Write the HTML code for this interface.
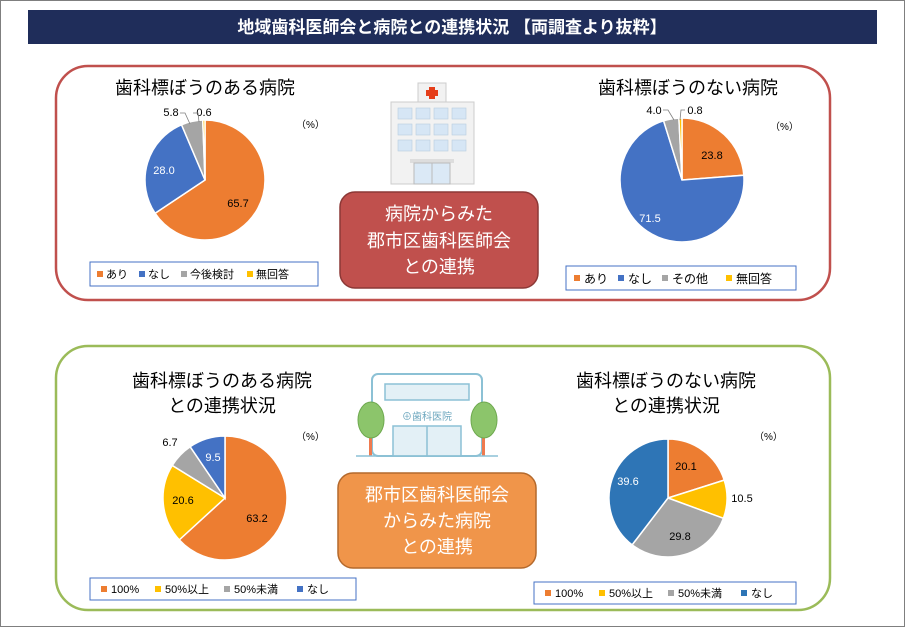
<!DOCTYPE html>
<html><head><meta charset="utf-8"><style>
body{margin:0;background:#fff}
svg{display:block;font-family:"Liberation Sans","Noto Sans CJK JP",sans-serif}
</style></head><body>
<svg id="s" width="905" height="627" viewBox="0 0 905 627">
<rect x="0.5" y="0.5" width="904" height="626" fill="#fff" stroke="#7f7f7f"/>
<rect x="28" y="10" width="849" height="34" fill="#1f2d5a"/>
<text x="452" y="33" fill="#fff" font-size="17" font-weight="bold" text-anchor="middle">地域歯科医師会と病院との連携状況 【両調査より抜粋】</text>
<rect x="56" y="66" width="774" height="234" rx="32" fill="none" stroke="#c0504d" stroke-width="2.5"/>
<rect x="56" y="346" width="774" height="264" rx="32" fill="none" stroke="#9bbb59" stroke-width="2.5"/>

<g font-size="18" text-anchor="middle" fill="#000">
<text x="205" y="94">歯科標ぼうのある病院</text>
<text x="688" y="94">歯科標ぼうのない病院</text>
<text x="222" y="387">歯科標ぼうのある病院</text>
<text x="222" y="412">との連携状況</text>
<text x="666" y="387">歯科標ぼうのない病院</text>
<text x="666" y="412">との連携状況</text>
</g>
<g font-size="10" fill="#000">
<text x="296" y="128">（%）</text>
<text x="770" y="130">（%）</text>
<text x="296" y="440">（%）</text>
<text x="754" y="440">（%）</text>
</g>
<g id="pies"></g>
<g font-size="11" text-anchor="middle">
<text x="238" y="207" fill="#000">65.7</text>
<text x="164" y="174" fill="#fff">28.0</text>
<text x="171" y="116">5.8</text>
<text x="204" y="116">0.6</text>
<text x="712" y="159">23.8</text>
<text x="650" y="222" fill="#fff">71.5</text>
<text x="654" y="114">4.0</text>
<text x="695" y="114">0.8</text>
<text x="257" y="522">63.2</text>
<text x="183" y="504">20.6</text>
<text x="170" y="446">6.7</text>
<text x="213" y="461" fill="#fff">9.5</text>
<text x="686" y="470">20.1</text>
<text x="742" y="502">10.5</text>
<text x="680" y="540">29.8</text>
<text x="628" y="485" fill="#fff">39.6</text>
</g>
<g stroke="#7f7f7f" stroke-width="0.8" fill="none">
<polyline points="180,113 185,113 190,124"/>
<polyline points="193,113 198,113 199,122"/>
<polyline points="663,110 668,110 674,120"/>
<polyline points="685,110 681,110 680,120"/>
</g>

<g font-size="11">
<rect x="90" y="262" width="228" height="24" fill="#fff" stroke="#4472c4"/>
<rect x="97" y="271" width="6" height="6" fill="#ed7d31"/><text x="106" y="278">あり</text>
<rect x="139" y="271" width="6" height="6" fill="#4472c4"/><text x="148" y="278">なし</text>
<rect x="181" y="271" width="6" height="6" fill="#a5a5a5"/><text x="190" y="278">今後検討</text>
<rect x="247" y="271" width="6" height="6" fill="#ffc000"/><text x="256" y="278">無回答</text>

<rect x="566" y="266" width="230" height="24" fill="#fff" stroke="#4472c4"/>
<rect x="574" y="275" width="6" height="6" fill="#ed7d31"/><text x="584" y="283" font-size="12">あり</text>
<rect x="618" y="275" width="6" height="6" fill="#4472c4"/><text x="628" y="283" font-size="12">なし</text>
<rect x="662" y="275" width="6" height="6" fill="#a5a5a5"/><text x="672" y="283" font-size="12">その他</text>
<rect x="726" y="275" width="6" height="6" fill="#ffc000"/><text x="736" y="283" font-size="12">無回答</text>

<rect x="90" y="578" width="266" height="22" fill="#fff" stroke="#4472c4"/>
<rect x="101" y="586" width="6" height="6" fill="#ed7d31"/><text x="111" y="593">100%</text>
<rect x="155" y="586" width="6" height="6" fill="#ffc000"/><text x="165" y="593">50%以上</text>
<rect x="224" y="586" width="6" height="6" fill="#a5a5a5"/><text x="234" y="593">50%未満</text>
<rect x="297" y="586" width="6" height="6" fill="#4472c4"/><text x="307" y="593">なし</text>

<rect x="534" y="582" width="262" height="22" fill="#fff" stroke="#4472c4"/>
<rect x="545" y="590" width="6" height="6" fill="#ed7d31"/><text x="555" y="597">100%</text>
<rect x="599" y="590" width="6" height="6" fill="#ffc000"/><text x="609" y="597">50%以上</text>
<rect x="668" y="590" width="6" height="6" fill="#a5a5a5"/><text x="678" y="597">50%未満</text>
<rect x="741" y="590" width="6" height="6" fill="#2e75b6"/><text x="751" y="597">なし</text>
</g>

<g>
<rect x="418" y="83" width="28" height="20" fill="#f2f2f2" stroke="#ccc"/>
<rect x="429" y="87" width="6" height="12" fill="#e53e1a"/><rect x="426" y="90" width="12" height="6" fill="#e53e1a"/>
<rect x="391" y="102" width="83" height="82" fill="#f2f2f2" stroke="#ccc"/>
<g fill="#d6e6f5" stroke="#b8cde0" stroke-width="0.6" id="win"></g>
<rect x="410" y="159" width="44" height="4" fill="#ddd"/>
<rect x="414" y="163" width="36" height="21" fill="#dbe9f6" stroke="#bbb"/>
<line x1="432" y1="163" x2="432" y2="184" stroke="#bbb"/>
</g>
<rect x="340" y="192" width="198" height="96" rx="15" fill="#c0504d" stroke="#8c3836" stroke-width="1.5"/>
<g fill="#fff" font-size="18" text-anchor="middle">
<text x="439" y="220">病院からみた</text>
<text x="439" y="247">郡市区歯科医師会</text>
<text x="439" y="273">との連携</text>
</g>

<g>
<rect x="372" y="374" width="110" height="82" rx="6" fill="#fff" stroke="#8cc1d5" stroke-width="2"/>
<rect x="385" y="384" width="84" height="16" fill="#e3f0f6" stroke="#8cc1d5" stroke-width="1.5"/>
<text x="427" y="420" font-size="10" fill="#6fa8bf" text-anchor="middle">⊕歯科医院</text>
<rect x="393" y="426" width="68" height="30" fill="#e3f0f6" stroke="#8cc1d5" stroke-width="1.5"/>
<line x1="427" y1="426" x2="427" y2="456" stroke="#8cc1d5" stroke-width="1.5"/>
<rect x="369" y="430" width="3" height="26" fill="#ef7a4f"/>
<ellipse cx="371" cy="420" rx="13" ry="18" fill="#8cc56b" stroke="#6ea94f"/>
<rect x="482" y="430" width="3" height="26" fill="#ef7a4f"/>
<ellipse cx="484" cy="420" rx="13" ry="18" fill="#8cc56b" stroke="#6ea94f"/>
<line x1="356" y1="456" x2="498" y2="456" stroke="#8cc1d5" stroke-width="1.5"/>
</g>
<rect x="338" y="473" width="198" height="95" rx="15" fill="#f0954a" stroke="#b4692c" stroke-width="1.5"/>
<g fill="#fff" font-size="18" text-anchor="middle">
<text x="437" y="501">郡市区歯科医師会</text>
<text x="437" y="527">からみた病院</text>
<text x="437" y="553">との連携</text>
</g>
</svg>
<script>
var NS="http://www.w3.org/2000/svg";
function pie(cx,cy,r,vals,cols){
 var g=document.getElementById("pies"),a=-Math.PI/2,tot=vals.reduce(function(s,v){return s+v},0);
 for(var i=0;i<vals.length;i++){
  var b=a+vals[i]/tot*2*Math.PI;
  var x1=cx+r*Math.cos(a),y1=cy+r*Math.sin(a),x2=cx+r*Math.cos(b),y2=cy+r*Math.sin(b);
  var p=document.createElementNS(NS,"path");
  p.setAttribute("d","M"+cx+","+cy+"L"+x1+","+y1+"A"+r+","+r+" 0 "+((b-a)>Math.PI?1:0)+" 1 "+x2+","+y2+"Z");
  p.setAttribute("fill",cols[i]);p.setAttribute("stroke","#fff");p.setAttribute("stroke-width","1.5");
  g.appendChild(p);a=b;
 }
}
pie(205,180,60,[65.7,28.0,5.8,0.6],["#ed7d31","#4472c4","#a5a5a5","#ffc000"]);
pie(682,180,62,[23.8,71.5,4.0,0.8],["#ed7d31","#4472c4","#a5a5a5","#ffc000"]);
pie(225,498,62,[63.2,20.6,6.7,9.5],["#ed7d31","#ffc000","#a5a5a5","#4472c4"]);
pie(668,498,59,[20.1,10.5,29.8,39.6],["#ed7d31","#ffc000","#a5a5a5","#2e75b6"]);
var w=document.getElementById("win");
for(var r=0;r<3;r++)for(var c=0;c<4;c++){var e=document.createElementNS(NS,"rect");
e.setAttribute("x",398+c*18);e.setAttribute("y",108+r*16);e.setAttribute("width",14);e.setAttribute("height",11);w.appendChild(e);}
</script>
</body></html>
